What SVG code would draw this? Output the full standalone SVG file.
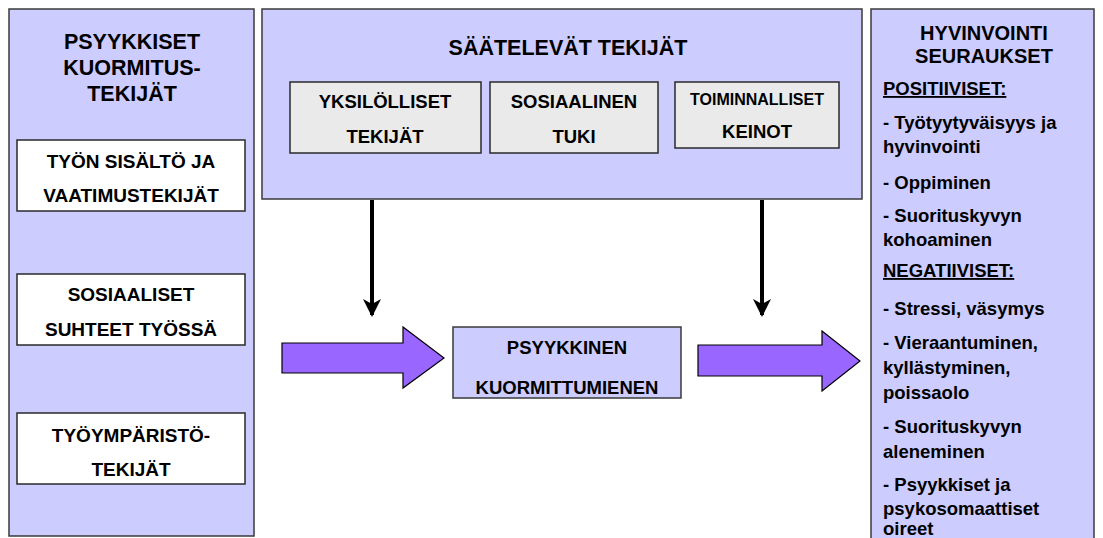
<svg xmlns="http://www.w3.org/2000/svg" width="1103" height="538" viewBox="0 0 1103 538">
<defs>
<style>
.panel{fill:#CCCCFF;stroke:#3a3a3a;stroke-width:1.5}
.wbox{fill:#FFFFFF;stroke:#2a2a2a;stroke-width:1.5}
.gbox{fill:#EAEAEA;stroke:#2a2a2a;stroke-width:1.5}
.fat{fill:#9966FF;stroke:#000;stroke-width:1.2;stroke-linejoin:miter}
.t{font-family:"Liberation Sans",Arial,sans-serif;font-weight:bold;fill:#000}
.c{text-anchor:middle}
.h{font-size:21.5px}
.rh{font-size:20px}
.m{font-size:19px}
.s{font-size:18.5px}
.l{font-size:18.5px}
.u{text-decoration:underline}
.conn{stroke:#000;stroke-width:4;fill:none}
</style>
<marker id="ah" markerWidth="20" markerHeight="20" viewBox="0 0 20 20" refX="16" refY="10" orient="auto" markerUnits="userSpaceOnUse">
<path d="M0,1 L18,10 L0,19 L5,10 Z" fill="#000"/>
</marker>
</defs>
<rect width="1103" height="538" fill="#FFFFFF"/>

<g id="left-panel">
<rect class="panel" x="9" y="9" width="245" height="527"/>
<text class="t c h" x="132" y="49">PSYYKKISET</text>
<text class="t c h" x="132" y="75">KUORMITUS-</text>
<text class="t c h" x="132" y="101">TEKIJÄT</text>
</g>
<g id="tyon-sisalto">
<rect class="wbox" x="17" y="140" width="228" height="71"/>
<text class="t c m" x="131" y="168">TYÖN SISÄLTÖ JA</text>
<text class="t c m" x="131" y="202">VAATIMUSTEKIJÄT</text>
</g>
<g id="sosiaaliset">
<rect class="wbox" x="17" y="274" width="228" height="71"/>
<text class="t c m" x="131" y="301">SOSIAALISET</text>
<text class="t c m" x="131" y="336">SUHTEET TYÖSSÄ</text>
</g>
<g id="tyoymparisto">
<rect class="wbox" x="17" y="413" width="228" height="71"/>
<text class="t c m" x="131" y="442">TYÖYMPÄRISTÖ-</text>
<text class="t c m" x="131" y="476">TEKIJÄT</text>
</g>

<g id="saatelevat">
<rect class="panel" x="262" y="9" width="600" height="190"/>
<text class="t c h" x="568" y="55">SÄÄTELEVÄT TEKIJÄT</text>
</g>
<g id="yksilolliset">
<rect class="gbox" x="290" y="82" width="191" height="71"/>
<text class="t c s" x="385" y="108">YKSILÖLLISET</text>
<text class="t c s" x="385" y="143">TEKIJÄT</text>
</g>
<g id="sosiaalinen-tuki">
<rect class="gbox" x="490" y="82" width="168" height="71"/>
<text class="t c s" x="574" y="108">SOSIAALINEN</text>
<text class="t c s" x="574" y="143">TUKI</text>
</g>
<g id="toiminnalliset">
<rect class="gbox" x="675" y="82" width="164" height="66"/>
<text class="t c" style="font-size:16px" x="757" y="105">TOIMINNALLISET</text>
<text class="t c s" x="757" y="138">KEINOT</text>
</g>

<g id="kuormittuminen">
<rect class="panel" x="453" y="327" width="228" height="71"/>
<text class="t c s" x="567" y="354">PSYYKKINEN</text>
<text class="t c s" x="567" y="394">KUORMITTUMIENEN</text>
</g>

<g id="hyvinvointi">
<rect class="panel" x="871" y="9" width="223" height="545"/>
<text class="t c rh" x="984" y="40">HYVINVOINTI</text>
<text class="t c rh" x="984" y="63">SEURAUKSET</text>
<text class="t l u" x="883" y="95">POSITIIVISET:</text>
<text class="t l" x="883" y="129">- Työtyytyväisyys ja</text>
<text class="t l" x="883" y="153">hyvinvointi</text>
<text class="t l" x="883" y="189">- Oppiminen</text>
<text class="t l" x="883" y="222">- Suorituskyvyn</text>
<text class="t l" x="883" y="246">kohoaminen</text>
<text class="t l u" x="883" y="277">NEGATIIVISET:</text>
<text class="t l" x="883" y="315">- Stressi, väsymys</text>
<text class="t l" x="883" y="349">- Vieraantuminen,</text>
<text class="t l" x="883" y="374">kyllästyminen,</text>
<text class="t l" x="883" y="399">poissaolo</text>
<text class="t l" x="883" y="433">- Suorituskyvyn</text>
<text class="t l" x="883" y="458">aleneminen</text>
<text class="t l" x="883" y="491">- Psyykkiset ja</text>
<text class="t l" x="883" y="515">psykosomaattiset</text>
<text class="t l" x="883" y="535">oireet</text>
</g>

<g id="connectors">
<line class="conn" x1="372" y1="200" x2="372" y2="315" marker-end="url(#ah)"/>
<line class="conn" x1="762" y1="200" x2="762" y2="315" marker-end="url(#ah)"/>
<polygon class="fat" points="282,343 403,343 403,327 444,358 403,388 403,373 282,373"/>
<polygon class="fat" points="698,345 822,345 822,331 860,361 822,391 822,376 698,376"/>
</g>
</svg>
